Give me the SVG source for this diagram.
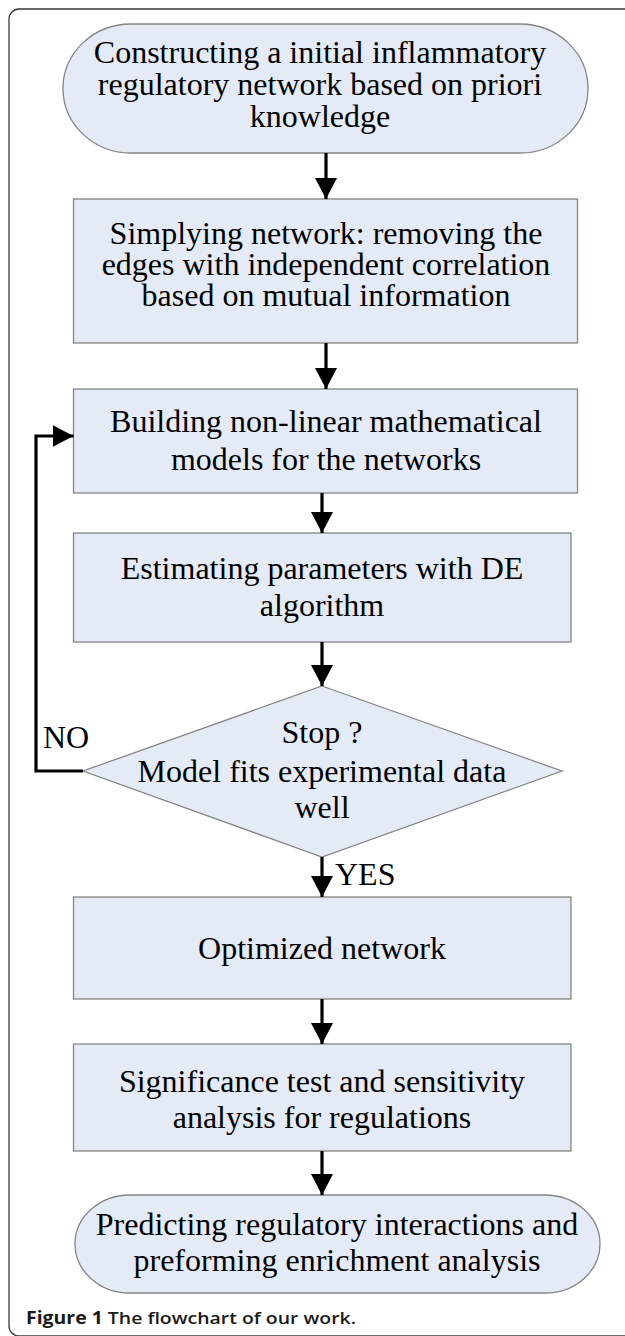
<svg xmlns="http://www.w3.org/2000/svg" width="625" height="1336" viewBox="0 0 625 1336">
<defs>
<marker id="ah" markerUnits="userSpaceOnUse" markerWidth="22" markerHeight="22" viewBox="0 0 22 22" refX="21" refY="11" orient="auto">
<path d="M0,0 L21,11 L0,22 Z" fill="#000"/>
</marker>
<style>
.box{fill:#e5ebf6;stroke:#858585;stroke-width:1.3}
.t{font-family:"Liberation Serif","Times New Roman",serif;font-size:32px;fill:#000;text-anchor:middle}
.lbl{font-family:"Liberation Serif","Times New Roman",serif;font-size:32px;fill:#000}
.c{fill:none;stroke:#000;stroke-width:3.2}
.frame{fill:none;stroke:#3a3a3a;stroke-width:1.3}
.cap{font-family:"Open Sans","Noto Sans","Liberation Sans",sans-serif;font-size:17px;fill:#1a1a1a}
</style>
</defs>
<rect class="frame" x="9" y="9" width="640" height="1327" rx="10" ry="10"/>
<g id="n1">
<rect class="box" x="63" y="24" width="525" height="129" rx="68" ry="64.5"/>
<text class="t" x="320" y="63">Constructing a initial inflammatory</text>
<text class="t" x="320" y="95">regulatory network based on priori</text>
<text class="t" x="320" y="127">knowledge</text>
</g>
<g id="n2">
<rect class="box" x="73.5" y="199" width="504" height="144"/>
<text class="t" x="326" y="244">Simplying network: removing the</text>
<text class="t" x="326" y="275">edges with independent correlation</text>
<text class="t" x="326" y="306">based on mutual information</text>
</g>
<g id="n3">
<rect class="box" x="73.5" y="389" width="504" height="104"/>
<text class="t" x="326" y="432">Building non-linear mathematical</text>
<text class="t" x="326" y="470">models for the networks</text>
</g>
<g id="n4">
<rect class="box" x="73.5" y="533" width="497.5" height="109"/>
<text class="t" x="322" y="579">Estimating parameters with DE</text>
<text class="t" x="322" y="616">algorithm</text>
</g>
<g id="n5">
<polygon class="box" points="322,686 562,771 322,857 83,771"/>
<text class="t" x="322" y="743">Stop ?</text>
<text class="t" x="322" y="782">Model fits experimental data</text>
<text class="t" x="322" y="818">well</text>
</g>
<g id="n6">
<rect class="box" x="73.5" y="897" width="497.5" height="102"/>
<text class="t" x="322" y="959">Optimized network</text>
</g>
<g id="n7">
<rect class="box" x="73.5" y="1044" width="497.5" height="107"/>
<text class="t" x="322" y="1092">Significance test and sensitivity</text>
<text class="t" x="322" y="1128">analysis for regulations</text>
</g>
<g id="n8">
<rect class="box" x="75" y="1195" width="525" height="98" rx="55" ry="49"/>
<text class="t" x="337" y="1235">Predicting regulatory interactions and</text>
<text class="t" x="337" y="1271">preforming enrichment analysis</text>
</g>
<g id="connectors">
<line class="c" x1="326" y1="153" x2="326" y2="199" marker-end="url(#ah)"/>
<line class="c" x1="326" y1="343" x2="326" y2="389" marker-end="url(#ah)"/>
<line class="c" x1="322" y1="493" x2="322" y2="533" marker-end="url(#ah)"/>
<line class="c" x1="322" y1="642" x2="322" y2="686" marker-end="url(#ah)"/>
<polyline class="c" points="83,771 36,771 36,436 73.5,436" marker-end="url(#ah)"/>
<line class="c" x1="322" y1="857" x2="322" y2="897" marker-end="url(#ah)"/>
<line class="c" x1="322" y1="999" x2="322" y2="1044" marker-end="url(#ah)"/>
<line class="c" x1="322" y1="1151" x2="322" y2="1195" marker-end="url(#ah)"/>
<text class="lbl" x="43" y="748">NO</text>
<text class="lbl" x="335" y="885">YES</text>
</g>
<text class="cap" x="26" y="1324" textLength="330" lengthAdjust="spacingAndGlyphs"><tspan font-weight="700">Figure 1</tspan><tspan font-weight="600"> The flowchart of our work.</tspan></text>
</svg>
